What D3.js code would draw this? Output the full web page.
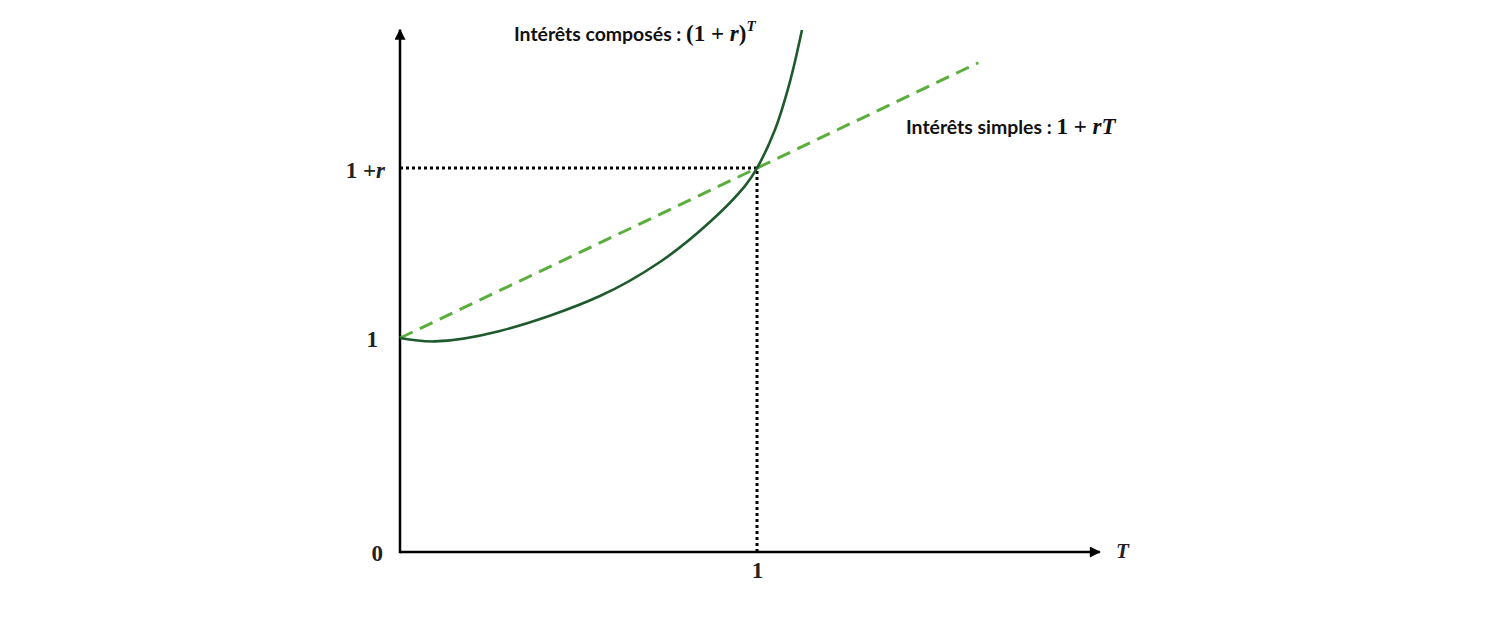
<!DOCTYPE html>
<html>
<head>
<meta charset="utf-8">
<script src="https://cdn.jsdelivr.net/npm/d3@7/dist/d3.min.js"></script>
<style>
  html, body { margin: 0; padding: 0; background: #fff; }
  svg { display: block; }
  .sans { font-family: Lato, "Open Sans", sans-serif; font-weight: 700; }
  .math { font-family: "Liberation Serif", "DejaVu Serif", serif; font-weight: 700; }
</style>
</head>
<body>
<svg id="chart" width="1500" height="623"></svg>
<script>
// ---- data ----
const r = 0.794;
const compoundT = [0, 0.098, 0.280, 0.560, 0.728, 0.868, 0.966, 1.0, 1.050, 1.092, 1.126];
const compoundV = [1.0, 0.984, 1.033, 1.196, 1.355, 1.542, 1.710, 1.794, 1.972, 2.196, 2.439];
const simpleT = [0, 1.62];
const simpleV = [1, 1 + r * 1.62];
const yTickValues = [0, 1, 1 + r];
const xTickValues = [1];
const xMax = 1.96, yMax = 2.44;

// ---- scales ----
const x = d3.scaleLinear().domain([0, 1]).range([400, 757]);
const y = d3.scaleLinear().domain([0, 1]).range([552, 338]);

const svg = d3.select("#chart");
const defs = svg.append("defs");
defs.append("marker").attr("id", "arrow")
  .attr("viewBox", "0 0 10 10").attr("refX", 9).attr("refY", 5)
  .attr("markerWidth", 12).attr("markerHeight", 11)
  .attr("markerUnits", "userSpaceOnUse")
  .attr("orient", "auto")
  .append("path").attr("d", "M0,0 L10,5 L0,10 Z").attr("fill", "#000");

// dotted guides
svg.append("path")
  .attr("d", `M${x(0)},${y(1 + r)} H${x(1)} V${y(0)}`)
  .attr("fill", "none").attr("stroke", "#000")
  .attr("stroke-width", 3).attr("stroke-dasharray", "3 3");

// axes
svg.append("line").attr("x1", x(0)).attr("y1", y(0)).attr("x2", x(xMax)).attr("y2", y(0))
  .attr("stroke", "#000").attr("stroke-width", 2.5).attr("marker-end", "url(#arrow)");
svg.append("line").attr("x1", x(0)).attr("y1", y(0) + 1.2).attr("x2", x(0)).attr("y2", y(yMax))
  .attr("stroke", "#000").attr("stroke-width", 2.5).attr("marker-end", "url(#arrow)");

// y tick labels via d3 axis
const yAxis = d3.axisLeft(y).tickValues(yTickValues).tickSize(0).tickPadding(17)
  .tickFormat(() => "");
const gy = svg.append("g").attr("transform", `translate(${x(0)},0)`).call(yAxis);
gy.select(".domain").remove();
gy.selectAll(".tick text").each(function(d, i) {
  const t = d3.select(this).attr("class", "math").attr("font-size", 23).attr("fill", "#222")
    .attr("font-family", null).attr("dy", "0.35em");
  if (i === 0) t.append("tspan").text("0");
  else if (i === 1) t.append("tspan").text("1");
  else {
    t.append("tspan").text("1 +");
    t.append("tspan").attr("font-style", "italic").text("r");
  }
});
gy.selectAll(".tick").filter((d, i) => i === 0).select("text").attr("x", -17);
gy.selectAll(".tick").filter((d, i) => i === 1).select("text").attr("x", -22);
gy.selectAll(".tick").filter((d, i) => i === 2).select("text").attr("x", -15).attr("dy", "0.4em");

const xAxis = d3.axisBottom(x).tickValues(xTickValues).tickSize(0).tickPadding(10)
  .tickFormat(d => String(d));
const gx = svg.append("g").attr("transform", `translate(0,${y(0)})`).call(xAxis);
gx.select(".domain").remove();
gx.selectAll(".tick text").attr("class", "math").attr("font-size", 23).attr("fill", "#222")
  .attr("font-family", null);

// T label
svg.append("text").attr("class", "math").attr("x", 1116).attr("y", y(0) + 6)
  .attr("font-size", 21).attr("font-style", "italic").attr("fill", "#222").text("T");

// simple interest line
const line = d3.line().x(d => x(d[0])).y(d => y(d[1]));
svg.append("path").datum(d3.zip(simpleT, simpleV))
  .attr("d", line).attr("fill", "none").attr("stroke", "#5aae3c")
  .attr("stroke-width", 3).attr("stroke-dasharray", "14 8");

// compound interest curve
const curve = d3.line().x(d => x(d[0])).y(d => y(d[1])).curve(d3.curveCatmullRom.alpha(0.5));
svg.append("path").datum(d3.zip(compoundT, compoundV))
  .attr("d", curve).attr("fill", "none").attr("stroke", "#1e5a2c")
  .attr("stroke-width", 2.6);

// annotations
const t1 = svg.append("text").attr("x", 514).attr("y", 41).attr("fill", "#111");
t1.append("tspan").attr("class", "sans").attr("font-size", 19.4).text("Intérêts composés : ");
t1.append("tspan").attr("class", "math").attr("font-size", 23).text("(1 + ");
t1.append("tspan").attr("class", "math").attr("font-size", 23).attr("font-style", "italic").text("r");
t1.append("tspan").attr("class", "math").attr("font-size", 23).text(")");
t1.append("tspan").attr("class", "math").attr("font-size", 15).attr("font-style", "italic").attr("dy", -10).text("T");

const t2 = svg.append("text").attr("x", 906).attr("y", 134).attr("fill", "#111");
t2.append("tspan").attr("class", "sans").attr("font-size", 19.4).text("Intérêts simples : ");
t2.append("tspan").attr("class", "math").attr("font-size", 23).text("1 + ");
t2.append("tspan").attr("class", "math").attr("font-size", 23).attr("font-style", "italic").text("rT");
</script>
</body>
</html>
